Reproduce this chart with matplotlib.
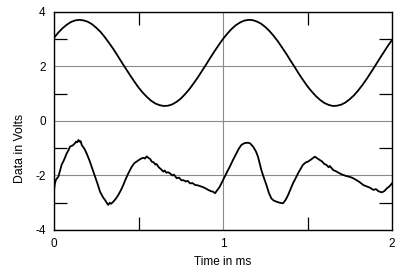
import matplotlib
matplotlib.use("Agg")
import matplotlib.pyplot as plt
from matplotlib.ticker import MultipleLocator

# top trace, read every 0.025 ms
t_top = [i * 0.025 for i in range(81)]
v_top = [3.05, 3.24, 3.40, 3.53, 3.63, 3.69, 3.71, 3.69, 3.64, 3.55,
         3.42, 3.27, 3.08, 2.87, 2.65, 2.41, 2.16, 1.92, 1.68, 1.45,
         1.23, 1.04, 0.88, 0.74, 0.64, 0.58, 0.55, 0.56, 0.61, 0.70,
         0.82, 0.98, 1.16, 1.37, 1.59, 1.83, 2.07, 2.32, 2.56, 2.79,
         3.01, 3.20, 3.37, 3.51, 3.61, 3.68, 3.71, 3.70, 3.65, 3.57,
         3.45, 3.30, 3.12, 2.92, 2.69, 2.46, 2.21, 1.97, 1.72, 1.49,
         1.27, 1.08, 0.91, 0.77, 0.66, 0.59, 0.55, 0.56, 0.60, 0.68,
         0.80, 0.94, 1.12, 1.32, 1.54, 1.78, 2.02, 2.27, 2.51, 2.75,
         2.97]

# bottom (noisy) trace
t_bot = [0.0, 0.005, 0.012, 0.026, 0.045, 0.06, 0.075, 0.085, 0.095, 0.11,
         0.124, 0.13, 0.138, 0.144, 0.152, 0.158, 0.164, 0.18, 0.193, 0.21,
         0.223, 0.243, 0.26, 0.272, 0.29, 0.302, 0.312, 0.321, 0.33, 0.338,
         0.351, 0.365, 0.38, 0.395, 0.41, 0.425, 0.44, 0.46, 0.475, 0.489,
         0.505, 0.519, 0.53, 0.538, 0.548, 0.56, 0.57, 0.578, 0.59, 0.6,
         0.607, 0.62, 0.635, 0.647, 0.655, 0.665, 0.675, 0.686, 0.7, 0.71,
         0.726, 0.74, 0.755, 0.765, 0.78, 0.792, 0.805, 0.82, 0.835, 0.85,
         0.874, 0.89, 0.913, 0.93, 0.94, 0.953, 0.965, 0.98, 1.0, 1.02,
         1.04, 1.06, 1.079, 1.095, 1.109, 1.125, 1.14, 1.148, 1.16, 1.178,
         1.195, 1.207, 1.217, 1.227, 1.24, 1.257, 1.272, 1.286, 1.3, 1.316,
         1.335, 1.355, 1.37, 1.385, 1.4, 1.414, 1.43, 1.444, 1.46, 1.473,
         1.49, 1.503, 1.52, 1.535, 1.543, 1.555, 1.572, 1.585, 1.6, 1.612,
         1.625, 1.632, 1.652, 1.67, 1.69, 1.71, 1.73, 1.75, 1.77, 1.79,
         1.81, 1.83, 1.85, 1.87, 1.89, 1.905, 1.92, 1.94, 1.955, 1.97,
         1.985, 2.0]
v_bot = [-2.55, -2.3, -2.15, -2.04, -1.61, -1.42, -1.19, -1.08, -0.94, -0.9,
         -0.82, -0.76, -0.78, -0.70, -0.76, -0.74, -0.88, -1.02, -1.19, -1.45,
         -1.68, -2.04, -2.35, -2.59, -2.8, -2.9, -3.0, -3.08, -3.0, -3.04,
         -2.96, -2.86, -2.72, -2.55, -2.35, -2.12, -1.92, -1.68, -1.55, -1.49,
         -1.42, -1.37, -1.35, -1.38, -1.30, -1.36, -1.40, -1.49, -1.52, -1.60,
         -1.58, -1.70, -1.78, -1.86, -1.82, -1.90, -1.88, -1.92, -2.0, -1.97,
         -2.10, -2.08, -2.18, -2.17, -2.22, -2.20, -2.29, -2.28, -2.35, -2.36,
         -2.41, -2.45, -2.53, -2.58, -2.59, -2.65, -2.55, -2.42, -2.17, -1.92,
         -1.68, -1.42, -1.19, -1.0, -0.88, -0.82, -0.80, -0.80, -0.82, -0.94,
         -1.12, -1.31, -1.55, -1.80, -2.05, -2.35, -2.65, -2.84, -2.92, -2.96,
         -3.0, -3.02, -2.9, -2.72, -2.5, -2.29, -2.1, -1.92, -1.75, -1.61,
         -1.52, -1.49, -1.42, -1.35, -1.31, -1.36, -1.43, -1.48, -1.58, -1.61,
         -1.70, -1.65, -1.80, -1.85, -1.92, -1.98, -2.02, -2.05, -2.10, -2.17,
         -2.25, -2.35, -2.40, -2.45, -2.53, -2.50, -2.58, -2.62, -2.57, -2.47,
         -2.40, -2.29]

plt.rcParams['font.family'] = ['Liberation Sans', 'DejaVu Sans']
plt.rcParams['axes.unicode_minus'] = False

fig = plt.figure(figsize=(4.0, 2.76), dpi=100)
ax = fig.add_axes([0.135, 0.1667, 0.845, 0.79])

ax.plot(t_top, v_top, color='black', lw=1.3)
ax.plot(t_bot, v_bot, color='black', lw=1.3)

ax.set_xlim(0, 2)
ax.set_ylim(-4, 4)
ax.xaxis.set_major_locator(MultipleLocator(1))
ax.xaxis.set_minor_locator(MultipleLocator(0.5))
ax.yaxis.set_major_locator(MultipleLocator(2))
ax.yaxis.set_minor_locator(MultipleLocator(1))
ax.grid(True, which='major', color='#8a8a8a', lw=0.8)
ax.tick_params(which='major', length=0, labelsize=8.5, pad=6)
ax.tick_params(which='minor', direction='in', length=9.5, width=0.9,
               top=True, right=True)
for s in ax.spines.values():
    s.set_linewidth(1.0)

ax.set_xlabel('Time in ms', fontsize=8.5)
ax.set_ylabel('Data in Volts', fontsize=8.8)
ax.xaxis.set_label_coords(0.5, -0.12)
ax.yaxis.set_label_coords(-0.083, 0.372)

fig.savefig('out.png', dpi=100)
